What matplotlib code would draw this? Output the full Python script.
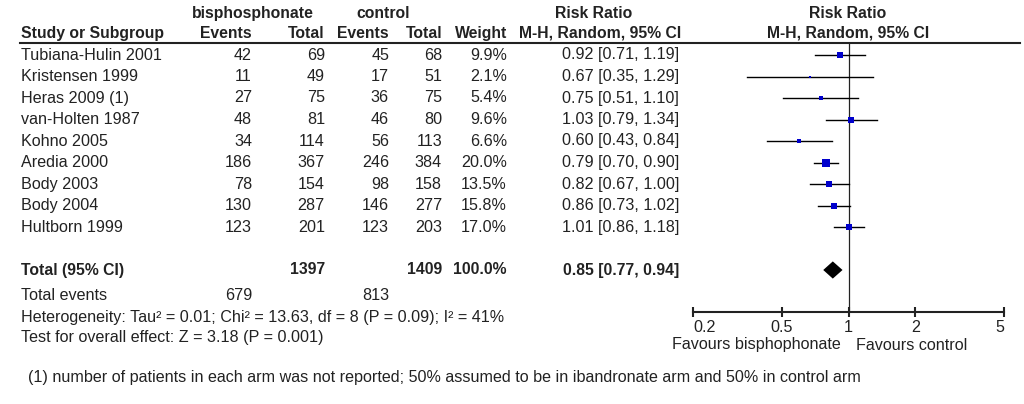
import matplotlib
matplotlib.use("Agg")
import matplotlib.pyplot as plt
from matplotlib.transforms import blended_transform_factory
from matplotlib.lines import Line2D

# ---------------- data ----------------
studies = ["Tubiana-Hulin 2001", "Kristensen 1999", "Heras 2009 (1)", "van-Holten 1987",
           "Kohno 2005", "Aredia 2000", "Body 2003", "Body 2004", "Hultborn 1999"]
events_bis = [42, 11, 27, 48, 34, 186, 78, 130, 123]
total_bis = [69, 49, 75, 81, 114, 367, 154, 287, 201]
events_ctl = [45, 17, 36, 46, 56, 246, 98, 146, 123]
total_ctl = [68, 51, 75, 80, 113, 384, 158, 277, 203]
weights = [9.9, 2.1, 5.4, 9.6, 6.6, 20.0, 13.5, 15.8, 17.0]
rr = [0.92, 0.67, 0.75, 1.03, 0.60, 0.79, 0.82, 0.86, 1.01]
rr_lo = [0.71, 0.35, 0.51, 0.79, 0.43, 0.70, 0.67, 0.73, 0.86]
rr_hi = [1.19, 1.29, 1.10, 1.34, 0.84, 0.90, 1.00, 1.02, 1.18]

total_label = "Total (95% CI)"
sum_total_bis = 1397
sum_total_ctl = 1409
sum_weight = 100.0
pooled_rr = 0.85
pooled_lo = 0.77
pooled_hi = 0.94
sum_events_bis = 679
sum_events_ctl = 813

heterogeneity = "Heterogeneity: Tau\u00b2 = 0.01; Chi\u00b2 = 13.63, df = 8 (P = 0.09); I\u00b2 = 41%"
overall = "Test for overall effect: Z = 3.18 (P = 0.001)"
footnote = ("(1) number of patients in each arm was not reported; 50% assumed to be in "
            "ibandronate arm and 50% in control arm")

xticks = [0.2, 0.5, 1, 2, 5]
xtick_labels = ["0.2", "0.5", "1", "2", "5"]
favours_left = "Favours bisphophonate"
favours_right = "Favours control"

# ---------------- style ----------------
plt.rcParams['font.family'] = ['Liberation Sans', 'DejaVu Sans']
FS = 11.6
FSB = 11.3
TXT = '#222222'
W, H = 1024, 404

fig = plt.figure(figsize=(W / 100, H / 100), dpi=100)

# row geometry (pixels from top)
row0_px = 55.0
row_px = 21.5
top_px = 43.0
axis_px = 312.0
ylim_top = (top_px - row0_px) / row_px
ylim_bot = (axis_px - row0_px) / row_px

x0_px, x1_px = 693.0, 1004.0
ax = fig.add_axes([x0_px / W, 1 - axis_px / H, (x1_px - x0_px) / W, (axis_px - top_px) / H])
ax.set_xscale('log')
ax.set_xlim(0.2, 5)
ax.set_ylim(ylim_bot, ylim_top)
ax.patch.set_alpha(0)
for s in ['top', 'right', 'left']:
    ax.spines[s].set_visible(False)
ax.spines['bottom'].set_linewidth(1.5)
ax.spines['bottom'].set_color(TXT)
ax.set_yticks([])
ax.minorticks_off()
ax.set_xticks(xticks)
ax.set_xticklabels(xtick_labels)
ax.tick_params(axis='x', direction='inout', length=7, width=1.5, color=TXT,
               labelsize=FS, labelcolor=TXT, pad=2)
labs = ax.get_xticklabels()
labs[0].set_ha('left')
labs[-1].set_ha('right')

ax.axvline(1, color=TXT, lw=0.9, zorder=1)

ypos = list(range(len(studies)))
for i, y in enumerate(ypos):
    ax.plot([rr_lo[i], rr_hi[i]], [y, y], color='black', lw=1.0, zorder=2)
    ms = 5.4 * (weights[i] / 20.0) ** 0.5
    ax.plot([rr[i]], [y], marker='s', ms=ms, mew=0, color='#0000CC', zorder=3)

y_tot = len(studies) + 1
h = 0.4
ax.fill([pooled_lo, pooled_rr, pooled_hi, pooled_rr],
        [y_tot, y_tot - h, y_tot, y_tot + h], color='black', zorder=3, lw=0)

# ---------------- table text ----------------
tr = blended_transform_factory(fig.transFigure, ax.transData)

def px(x):
    return x / W

def put(x, y, s, ha='left', bold=False, color=TXT):
    fig.text(px(x), y, s, transform=tr, ha=ha, va='center',
             fontsize=FSB if bold else FS,
             fontweight='bold' if bold else 'normal', color=color)

# header
put(253, -1.95, "bisphosphonate", ha='center', bold=True)
put(383, -1.95, "control", ha='center', bold=True)
put(594, -1.95, "Risk Ratio", ha='center', bold=True)
put(848, -1.95, "Risk Ratio", ha='center', bold=True)
put(21, -1.0, "Study or Subgroup", bold=True)
put(252, -1.0, "Events", ha='right', bold=True)
put(325, -1.0, "Total", ha='right', bold=True)
put(389, -1.0, "Events", ha='right', bold=True)
put(442, -1.0, "Total", ha='right', bold=True)
put(507, -1.0, "Weight", ha='right', bold=True)
put(600, -1.0, "M-H, Random, 95% CI", ha='center', bold=True)
put(848, -1.0, "M-H, Random, 95% CI", ha='center', bold=True)

fig.add_artist(Line2D([px(20), px(1020)], [1 - top_px / H] * 2, transform=fig.transFigure,
                      color=TXT, lw=1.5))

for i, y in enumerate(ypos):
    put(21, y, studies[i])
    put(252, y, str(events_bis[i]), ha='right')
    put(325, y, str(total_bis[i]), ha='right')
    put(389, y, str(events_ctl[i]), ha='right')
    put(442, y, str(total_ctl[i]), ha='right')
    put(507, y, f"{weights[i]:.1f}%", ha='right')
    put(679, y, f"{rr[i]:.2f} [{rr_lo[i]:.2f}, {rr_hi[i]:.2f}]", ha='right')

put(21, y_tot, total_label, bold=True)
put(325, y_tot, str(sum_total_bis), ha='right', bold=True)
put(442, y_tot, str(sum_total_ctl), ha='right', bold=True)
put(507, y_tot, f"{sum_weight:.1f}%", ha='right', bold=True)
put(679, y_tot, f"{pooled_rr:.2f} [{pooled_lo:.2f}, {pooled_hi:.2f}]", ha='right', bold=True)

y_ev = (295 - row0_px) / row_px
put(21, y_ev, "Total events")
put(252, y_ev, str(sum_events_bis), ha='right')
put(389, y_ev, str(sum_events_ctl), ha='right')
put(21, (317 - row0_px) / row_px, heterogeneity)
put(21, (337 - row0_px) / row_px, overall)
put(28, (377 - row0_px) / row_px, footnote)

# favours labels
fig.text(px(841), 1 - 345 / H, favours_left, ha='right', va='center', fontsize=FS, color=TXT)
fig.text(px(856), 1 - 345 / H, favours_right, ha='left', va='center', fontsize=FS, color=TXT)

fig.savefig("out.png", dpi=100, facecolor='white')
